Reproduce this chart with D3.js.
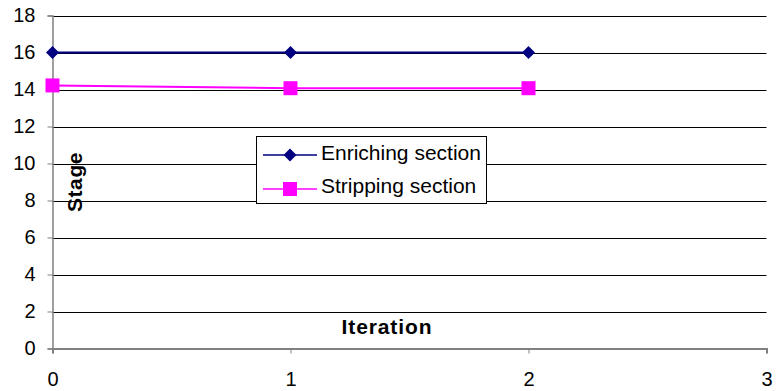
<!DOCTYPE html>
<html><head><meta charset="utf-8">
<script src="https://cdn.jsdelivr.net/npm/d3@7"></script>
<style>body{margin:0;background:#fff}svg{display:block}</style>
</head><body>
<script>
const iterations = [0, 1, 2];
const enriching = [16, 16, 16];
const stripping = [14.22, 14.07, 14.07];
const seriesNames = ["Enriching section", "Stripping section"];
const xTicks = [0, 1, 2, 3];
const yTicks = [0, 2, 4, 6, 8, 10, 12, 14, 16, 18];
const xTitle = "Iteration";
const yTitle = "Stage";

const W = 778, H = 391;
const svg = d3.select("body").append("svg").attr("width", W).attr("height", H);
const x = d3.scaleLinear().domain([0, 3]).range([52.5, 766.5]);
const y = d3.scaleLinear().domain([0, 18]).range([348.5, 15.5]);
const font = "Liberation Sans, Arial, sans-serif";

// gridlines
svg.append("g").selectAll("line").data(yTicks.filter(d => d > 0)).join("line")
  .attr("x1", x(0)).attr("x2", x(3)).attr("y1", d => Math.round(y(d)) + 0.5).attr("y2", d => Math.round(y(d)) + 0.5)
  .attr("stroke", "#000").attr("stroke-width", 1);

// y axis
const yAx = svg.append("g").attr("transform", `translate(${x(0)},0)`)
  .call(d3.axisLeft(y).tickValues(yTicks).tickSize(5).tickPadding(12));
yAx.select(".domain").attr("stroke", "#808080").attr("stroke-width", 1.5);
yAx.selectAll(".tick line").attr("stroke", "#808080");
yAx.selectAll("text").attr("font-family", font).attr("font-size", 20).attr("fill", "#000");

// x axis
const xAx = svg.append("g").attr("transform", `translate(0,${y(0)})`)
  .call(d3.axisBottom(x).tickValues(xTicks).tickFormat(d3.format("d")).tickSize(5).tickPadding(18));
xAx.select(".domain").attr("stroke", "#808080").attr("stroke-width", 2);
xAx.selectAll(".tick line").attr("stroke", "#808080");
xAx.selectAll("text").attr("font-family", font).attr("font-size", 20).attr("fill", "#000");

// series
const colors = ["#000080", "#FF00FF"];
const data = [enriching, stripping];
const line = d3.line().x((d, i) => x(iterations[i])).y(d => y(d));
data.forEach((s, k) => {
  svg.append("path").datum(s).attr("d", line).attr("fill", "none")
    .attr("stroke", colors[k]).attr("stroke-width", 2);
});
function drawMarker(g, k, cx, cy) {
  if (k === 0) {
    g.append("path").attr("d", "M0,-6.5L6.5,0L0,6.5L-6.5,0Z").attr("transform", `translate(${cx},${cy})`).attr("fill", colors[0]);
  } else {
    g.append("rect").attr("x", cx - 7).attr("y", cy - 7).attr("width", 14).attr("height", 14).attr("fill", colors[1]);
  }
}
data.forEach((s, k) => s.forEach((v, i) => drawMarker(svg, k, x(iterations[i]), y(v))));

// axis titles
svg.append("text").attr("x", 387).attr("y", 333.5).attr("text-anchor", "middle")
  .attr("font-family", font).attr("font-size", 21).attr("font-weight", "bold").attr("letter-spacing", 0.9).text(xTitle);
svg.append("text").attr("transform", "translate(82,182) rotate(-90)").attr("text-anchor", "middle")
  .attr("font-family", font).attr("font-size", 21).attr("font-weight", "bold").attr("letter-spacing", 0.6).text(yTitle);

// legend
const lg = svg.append("g");
lg.append("rect").attr("x", 256.5).attr("y", 136.5).attr("width", 230).attr("height", 67)
  .attr("fill", "#fff").attr("stroke", "#000").attr("stroke-width", 1);
const ly = [155, 189];
const lb = [159.5, 193];
seriesNames.forEach((n, k) => {
  lg.append("line").attr("x1", 263).attr("x2", 317).attr("y1", ly[k]).attr("y2", ly[k])
    .attr("stroke", colors[k]).attr("stroke-width", 1.5);
  drawMarker(lg, k, 290, ly[k]);
  lg.append("text").attr("x", 321).attr("y", lb[k]).attr("font-family", font).attr("font-size", 21).text(n);
});
</script>
</body></html>
